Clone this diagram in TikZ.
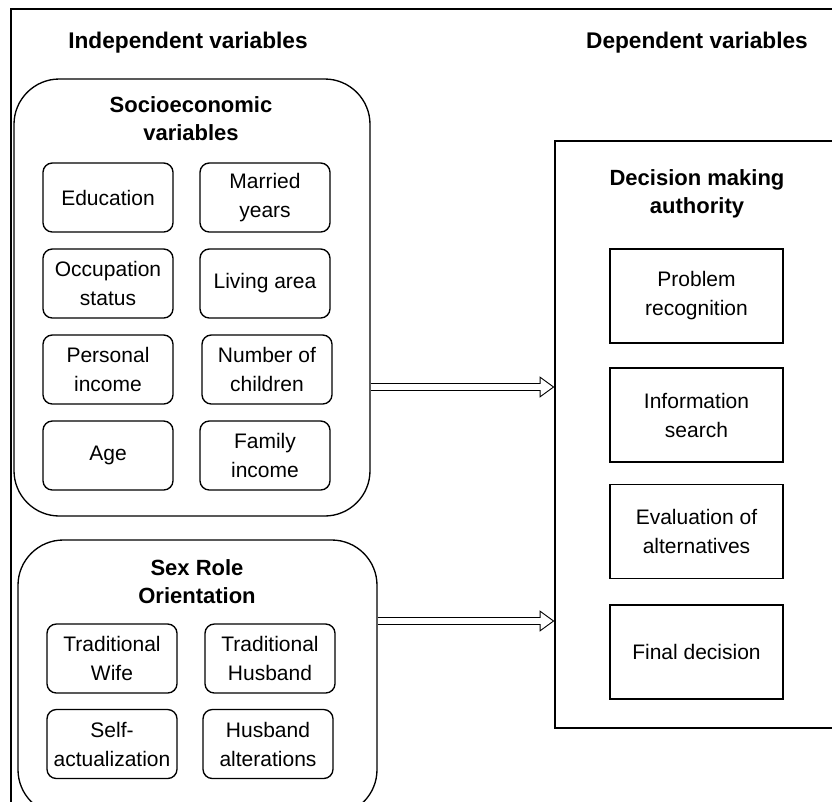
\documentclass[tikz,border=0pt]{standalone}
\usepackage{fontspec}
\setmainfont{Liberation Sans}
\usetikzlibrary{arrows.meta}

\begin{document}
\begin{tikzpicture}[x=0.75pt,y=-0.75pt,
  every node/.style={align=center,inner sep=0pt,font=\fontsize{15.75}{21.75}\selectfont},
  item/.style={draw,line width=1pt,rounded corners=7pt,minimum width=97.5pt,minimum height=51.75pt},
  group/.style={draw,line width=1pt,rounded corners=34pt},
  stage/.style={draw,line width=1pt,minimum width=129.75pt,minimum height=70.5pt},
  title/.style={font=\bfseries\fontsize{16.5}{21}\selectfont},
  flow/.style={line width=5.6pt,-{Triangle[length=11pt,width=16pt,line width=0pt]},
    postaction={draw=white,line width=4pt,shorten >=1.36pt,-{Triangle[length=8.84pt,width=12.86pt,line width=0pt]}}}]
	\useasboundingbox (0,0) rectangle (832,801);
	\clip (0,0) rectangle (832,801);

	% outer frame
	\draw[line width=1.8pt] (11,830) -- (11,9) -- (850,9);

	\node[title,font=\bfseries\fontsize{17}{21}\selectfont] (indep) at (188,43) {Independent variables};
	\node[title,font=\bfseries\fontsize{17}{21}\selectfont] (dep) at (697,43) {Dependent variables};

	% socioeconomic variables
	\node[group,minimum width=267pt,minimum height=327.75pt] (socio) at (192,297.5) {};
	\node[title] (sociot) at (191,119) {Socioeconomic\\variables};
	\node[item] (edu) at (108,197.5) {Education};
	\node[item] (mar) at (265,197.5) {Married\\years};
	\node[item] (occ) at (108,283.5) {Occupation\\status};
	\node[item] (liv) at (265,283.5) {Living area};
	\node[item] (pin) at (108,369.5) {Personal\\income};
	\node[item] (chi) at (267,369.5) {Number of\\children};
	\node[item] (age) at (108,455.5) {Age};
	\node[item] (fin) at (265,455.5) {Family\\income};

	% sex role orientation
	\node[group,minimum width=269.25pt,minimum height=206.25pt] (sex) at (197.5,677.5) {};
	\node[title] (sext) at (197,582) {Sex Role\\Orientation};
	\node[item] (wife) at (112,658.5) {Traditional\\Wife};
	\node[item] (husb) at (270,658.5) {Traditional\\Husband};
	\node[item] (self) at (112,744) {Self-\\actualization};
	\node[item] (alt) at (268,744) {Husband\\alterations};

	% decision making authority
	\node[draw,line width=1pt,minimum width=236.25pt,minimum height=440.25pt] (dma) at (712.5,434.5) {};
	\node[title] (dmat) at (697,194) {Decision making\\authority};
	\node[stage] (prob) at (696.5,296) {Problem\\recognition};
	\node[stage] (info) at (696.5,415) {Information\\search};
	\node[stage] (eval) at (696.5,531.5) {Evaluation of\\alternatives};
	\node[stage] (fdec) at (696.5,652) {Final decision};

	\foreach \from/\y in {socio/387,sex/621}
		\draw[flow] (\from.east |- 0,\y) -- (dma.west |- 0,\y);

\end{tikzpicture}
\end{document}
